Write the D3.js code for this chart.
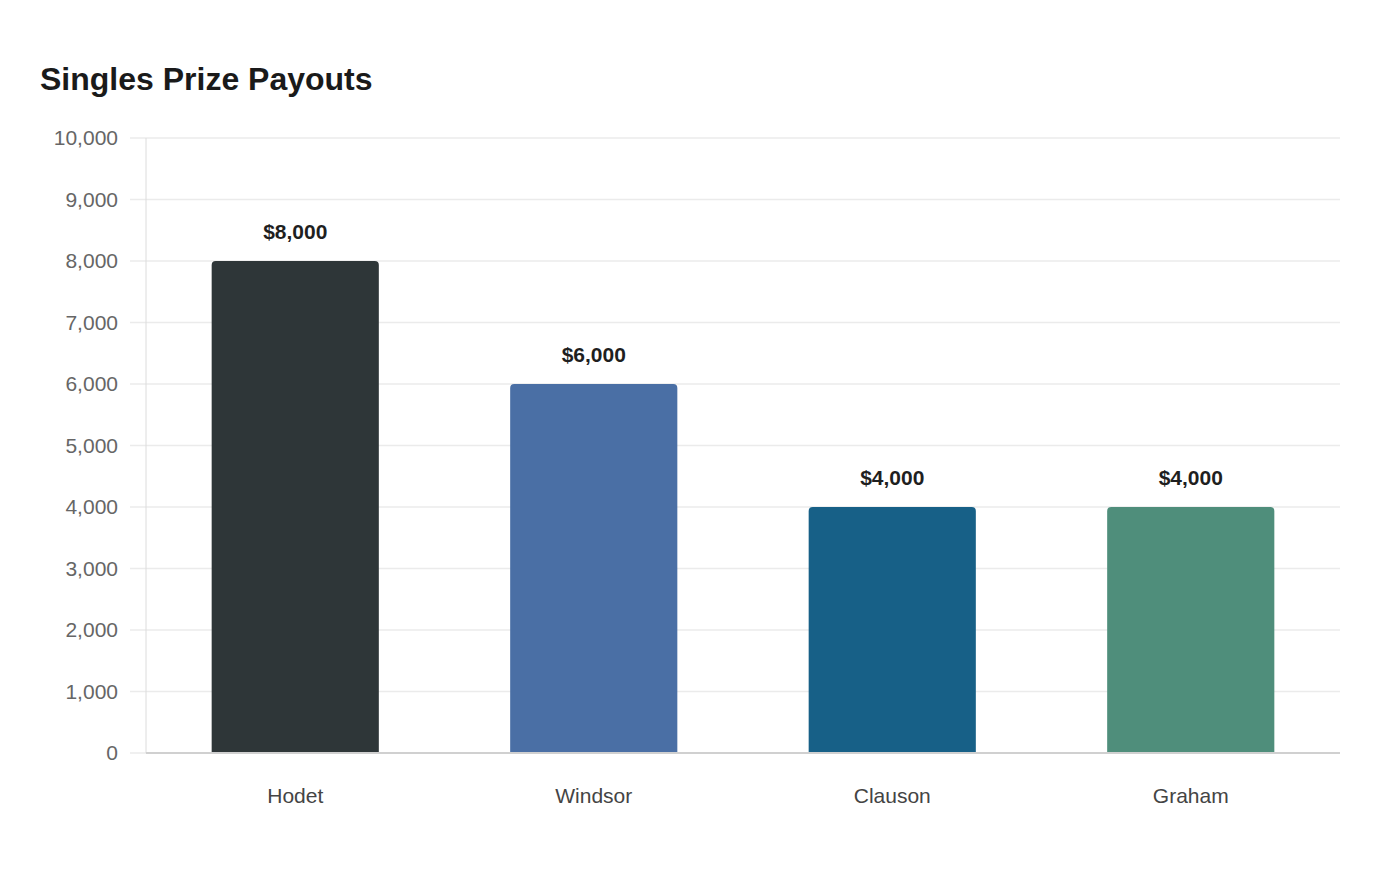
<!DOCTYPE html>
<html lang="en">
<head>
  <meta charset="UTF-8">
  <title>Singles Prize Payouts</title>
  <script src="https://cdn.jsdelivr.net/npm/d3@7"></script>
  <style>
    body { margin: 0; background: #fff; }
    text { font-family: "Liberation Sans", Arial, sans-serif; }
    .axis path { display: none; }
    .y.axis text { fill: #666; font-size: 21px; }
    .x.axis text { fill: #444; font-size: 21px; }
  </style>
</head>
<body>
<script>
  // data
  var players = ["Hodet", "Windsor", "Clauson", "Graham"];
  var payouts = [8000, 6000, 4000, 4000];
  var barColors = ["#2e3638", "#4a6fa5", "#176087", "#4f8e7b"];
  var yTicks = [0, 1000, 2000, 3000, 4000, 5000, 6000, 7000, 8000, 9000, 10000];

  var w = 1400, h = 880;
  var plotLeft = 146, plotRight = 1340, plotTop = 138, plotBottom = 753;

  var svg = d3.select("body").append("svg")
    .attr("width", w)
    .attr("height", h);

  svg.append("text")
    .attr("x", 40)
    .attr("y", 90)
    .attr("font-size", "32px")
    .attr("font-weight", "bold")
    .attr("fill", "#1a1a1a")
    .text("Singles Prize Payouts");

  var xScale = d3.scaleBand()
    .domain(players)
    .range([plotLeft, plotRight])
    .paddingInner(0.44)
    .paddingOuter(0.22);

  var yScale = d3.scaleLinear()
    .domain([0, 10000])
    .range([plotBottom, plotTop]);

  // gridlines
  svg.append("g")
    .selectAll("line")
    .data(yTicks)
    .enter()
    .append("line")
    .attr("x1", plotLeft - 16)
    .attr("x2", plotRight)
    .attr("y1", function(d) { return yScale(d); })
    .attr("y2", function(d) { return yScale(d); })
    .attr("stroke", "#ebebeb")
    .attr("stroke-width", 1.5);

  // vertical axis line
  svg.append("line")
    .attr("x1", plotLeft).attr("x2", plotLeft)
    .attr("y1", plotTop).attr("y2", plotBottom)
    .attr("stroke", "#dcdcdc")
    .attr("stroke-width", 1);

  var yAxis = d3.axisLeft(yScale)
    .tickValues(yTicks)
    .tickSize(0)
    .tickPadding(28)
    .tickFormat(d3.format(","));

  svg.append("g")
    .attr("class", "y axis")
    .attr("transform", "translate(" + plotLeft + ",0)")
    .call(yAxis);

  var bw = xScale.bandwidth();
  var r = 4;

  svg.selectAll("path.bar")
    .data(payouts)
    .enter()
    .append("path")
    .attr("class", "bar")
    .attr("fill", function(d, i) { return barColors[i]; })
    .attr("d", function(d, i) {
      var x0 = xScale(players[i]), y0 = yScale(d), y1 = yScale(0);
      return "M" + x0 + "," + y1 +
        "V" + (y0 + r) +
        "Q" + x0 + "," + y0 + " " + (x0 + r) + "," + y0 +
        "H" + (x0 + bw - r) +
        "Q" + (x0 + bw) + "," + y0 + " " + (x0 + bw) + "," + (y0 + r) +
        "V" + y1 + "Z";
    });

  // value labels
  svg.selectAll("text.value")
    .data(payouts)
    .enter()
    .append("text")
    .attr("class", "value")
    .attr("text-anchor", "middle")
    .attr("x", function(d, i) { return xScale(players[i]) + bw / 2; })
    .attr("y", function(d) { return yScale(d) - 22; })
    .attr("font-size", "21px")
    .attr("font-weight", "bold")
    .attr("fill", "#1f1f1f")
    .text(function(d) { return "$" + d3.format(",")(d); });

  // baseline
  svg.append("line")
    .attr("x1", plotLeft).attr("x2", plotRight)
    .attr("y1", plotBottom).attr("y2", plotBottom)
    .attr("stroke", "#d0d0d0")
    .attr("stroke-width", 2);

  var xAxis = d3.axisBottom(xScale)
    .tickSize(0)
    .tickPadding(35);

  svg.append("g")
    .attr("class", "x axis")
    .attr("transform", "translate(0," + plotBottom + ")")
    .call(xAxis);
</script>
</body>
</html>
